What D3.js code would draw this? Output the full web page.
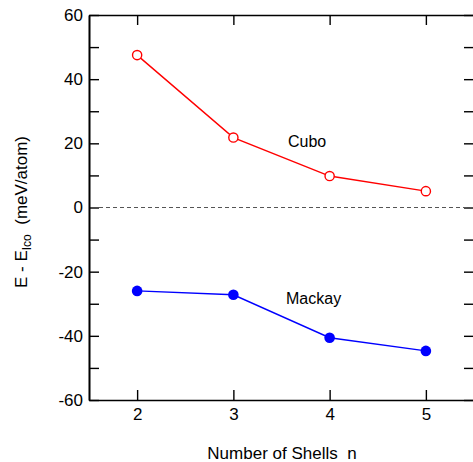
<!DOCTYPE html>
<html>
<head>
<meta charset="utf-8">
<script src="https://cdn.jsdelivr.net/npm/d3@7"></script>
<style>
  body { margin: 0; background: #fff; }
  svg { display: block; font-family: "Liberation Sans", Arial, sans-serif; }
</style>
</head>
<body>
<div id="chart"></div>
<script>
// Data
const shells = [2, 3, 4, 5];
const cubo = [47.5, 21.8, 9.8, 5.1];
const mackay = [-26, -27.2, -40.6, -44.7];
const yMajor = [-60, -40, -20, 0, 20, 40, 60];
const yMinor = [-50, -30, -10, 10, 30, 50];

const W = 473, H = 462;
const m = { left: 89, right: -1, top: 15, bottom: 62 };

const svg = d3.select('#chart').append('svg')
  .attr('width', W).attr('height', H);

const x = d3.scaleLinear().domain([1.5, 5.5]).range([m.left, W - m.right]);
const y = d3.scaleLinear().domain([-60, 60]).range([H - m.bottom, m.top]);

const tickLen = 10;
const fmt = d => String(d); // plain hyphen minus, like the original
const axisStyle = g => {
  g.select('.domain').attr('stroke', '#000').attr('stroke-width', 1.6);
  g.selectAll('.tick line').attr('stroke', '#000').attr('stroke-width', 1.4);
  g.selectAll('.tick text').attr('font-size', 17).attr('fill', '#000');
};

// Bottom axis, inward ticks
svg.append('g')
  .attr('transform', `translate(0,${y(-60)})`)
  .call(d3.axisBottom(x).tickValues(shells).tickFormat(fmt)
    .tickSizeInner(-tickLen).tickSizeOuter(0).tickPadding(8))
  .call(axisStyle);

// Top axis
svg.append('g')
  .attr('transform', `translate(0,${y(60)})`)
  .call(d3.axisTop(x).tickValues(shells).tickFormat('')
    .tickSizeInner(-tickLen).tickSizeOuter(0))
  .call(axisStyle);

// Left axis
svg.append('g')
  .attr('transform', `translate(${x(1.5)},0)`)
  .call(d3.axisLeft(y).tickValues(yMajor).tickFormat(fmt)
    .tickSizeInner(-tickLen).tickSizeOuter(0).tickPadding(6))
  .call(axisStyle);
svg.append('g')
  .attr('transform', `translate(${x(1.5)},0)`)
  .call(d3.axisLeft(y).tickValues(yMinor).tickFormat('')
    .tickSizeInner(-tickLen).tickSizeOuter(0))
  .call(axisStyle);

// Right axis
svg.append('g')
  .attr('transform', `translate(${x(5.5)},0)`)
  .call(d3.axisRight(y).tickValues(yMajor.concat(yMinor)).tickFormat('')
    .tickSizeInner(-tickLen).tickSizeOuter(0))
  .call(axisStyle);

// Zero line
svg.append('line')
  .attr('x1', x(1.5) + tickLen).attr('x2', x(5.5))
  .attr('y1', y(0)).attr('y2', y(0))
  .attr('stroke', '#555').attr('stroke-width', 1.2)
  .attr('stroke-dasharray', '4,3');

const line = d3.line().x((d, i) => x(shells[i])).y(d => y(d));

// Cubo
svg.append('path').datum(cubo)
  .attr('d', line).attr('fill', 'none')
  .attr('stroke', '#ff0000').attr('stroke-width', 1.4);
svg.append('g').selectAll('circle').data(cubo).join('circle')
  .attr('cx', (d, i) => x(shells[i])).attr('cy', d => y(d))
  .attr('r', 4.6).attr('fill', '#fff')
  .attr('stroke', '#ff0000').attr('stroke-width', 1.4);

// Mackay
svg.append('path').datum(mackay)
  .attr('d', line).attr('fill', 'none')
  .attr('stroke', '#0000ff').attr('stroke-width', 1.4);
svg.append('g').selectAll('circle').data(mackay).join('circle')
  .attr('cx', (d, i) => x(shells[i])).attr('cy', d => y(d))
  .attr('r', 5.3).attr('fill', '#0000ff');

// Series labels
svg.append('text').attr('x', 288).attr('y', 147)
  .attr('font-size', 16).text('Cubo');
svg.append('text').attr('x', 286).attr('y', 304)
  .attr('font-size', 16).text('Mackay');

// Axis titles
svg.append('text')
  .attr('x', 282).attr('y', 459)
  .attr('text-anchor', 'middle').attr('font-size', 17)
  .attr('xml:space', 'preserve')
  .text('Number of Shells  n');

const yt = svg.append('text')
  .attr('transform', `translate(27,${212}) rotate(-90)`)
  .attr('text-anchor', 'middle').attr('font-size', 17)
  .attr('xml:space', 'preserve');
yt.append('tspan').text('E - E');
yt.append('tspan').attr('font-size', 12).attr('dy', 4).text('Ico');
yt.append('tspan').attr('dy', -4).text('  (meV/atom)');
</script>
</body>
</html>
